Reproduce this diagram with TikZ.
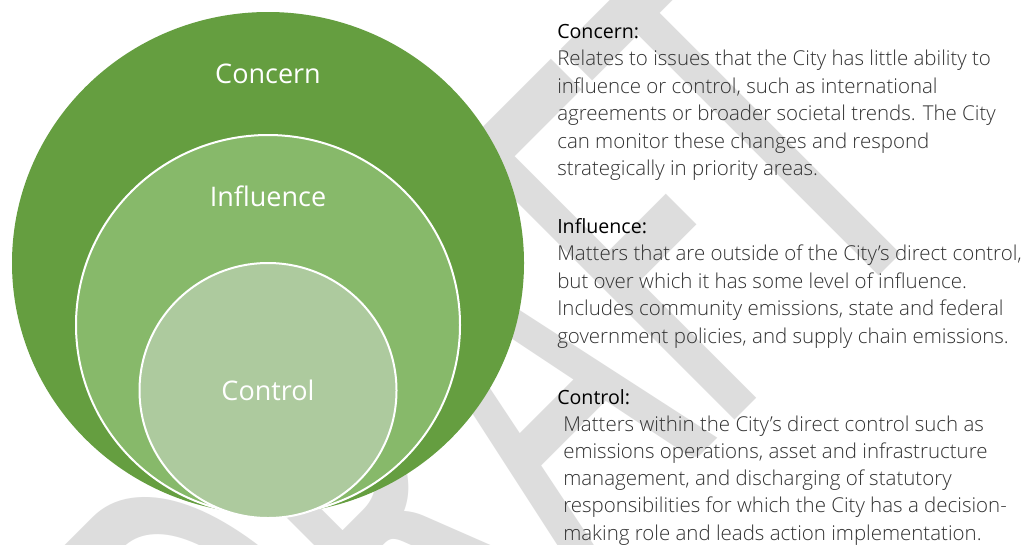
\documentclass[tikz,border=0pt]{standalone}
\usepackage{fontspec}
\usepackage{graphicx}
\usetikzlibrary{shapes.geometric}
\setmainfont{Open Sans}
\newfontfamily\lightfont{Open Sans Light}
\newfontfamily\wmfont{Carlito}
\definecolor{concernc}{RGB}{101,158,64}
\definecolor{influencec}{RGB}{135,185,106}
\definecolor{controlc}{RGB}{173,202,158}
\definecolor{wmgray}{RGB}{221,221,221}
\definecolor{bodytext}{RGB}{50,50,50}
\begin{document}
\begin{tikzpicture}[x=0.75pt,y=-0.75pt,
  ring/.style={ellipse,inner sep=0pt},
  circlabel/.style={text=white,font=\fontsize{20.25}{24}\selectfont,anchor=base,inner sep=0pt},
  headline/.style={anchor=base west,inner sep=0pt,font=\fontsize{14.7}{17}\selectfont,text=black},
  bodyline/.style={anchor=base west,inner sep=0pt,font=\lightfont\fontsize{15.36}{18}\selectfont,text=bodytext}]
\useasboundingbox (0,0) rectangle (1023,544);
\fill[white] (0,0) rectangle (1023,544);
% watermark
\node[rotate=45,anchor=base east,inner sep=0pt,text=wmgray,font=\wmfont\fontsize{450}{450}\selectfont] (wm) at (949.6,205.8) {\scalebox{0.575}[1]{DRAFT}};
% circles
\node[ring,fill=concernc,minimum width=384pt,minimum height=376.5pt] (outer) at (268,263) {};
\node[ring,fill=influencec,draw=white,line width=1.5pt,minimum width=288pt,minimum height=285pt] (middle) at (268,325) {};
\node[ring,fill=controlc,draw=white,line width=1.5pt,minimum width=192.75pt,minimum height=191.25pt] (inner) at (268,390.5) {};
\node[circlabel] (lconcern) at (268,83.7) {Concern};
\node[circlabel] (linfluence) at (268,206.6) {Influence};
\node[circlabel] (lcontrol) at (268,400.5) {Control};
% text
\node[headline] (h1) at (557,38) {Concern:};
\node[bodyline] (c1) at (557,65.5) {Relates to issues that the City has little ability to};
\node[bodyline] (c2) at (557,93) {influence or control, such as international};
\node[bodyline] (c3) at (557,120.5) {agreements or broader societal trends. The City};
\node[bodyline] (c4) at (557,148) {can monitor these changes and respond};
\node[bodyline] (c5) at (557,175.5) {strategically in priority areas.};
\node[headline] (h2) at (557,233) {Influence:};
\node[bodyline] (i1) at (557,260.5) {Matters that are outside of the City’s direct control,};
\node[bodyline] (i2) at (557,288) {but over which it has some level of influence.};
\node[bodyline] (i3) at (557,315.5) {Includes community emissions, state and federal};
\node[bodyline] (i4) at (557,343) {government policies, and supply chain emissions.};
\node[headline] (h3) at (557,404) {Control:};
\node[bodyline] (k1) at (563,431.2) {Matters within the City’s direct control such as};
\node[bodyline] (k2) at (563,458.4) {emissions operations, asset and infrastructure};
\node[bodyline] (k3) at (563,485.6) {management, and discharging of statutory};
\node[bodyline] (k4) at (563,512.8) {responsibilities for which the City has a decision-};
\node[bodyline] (k5) at (563,540) {making role and leads action implementation.};
\end{tikzpicture}
\end{document}
